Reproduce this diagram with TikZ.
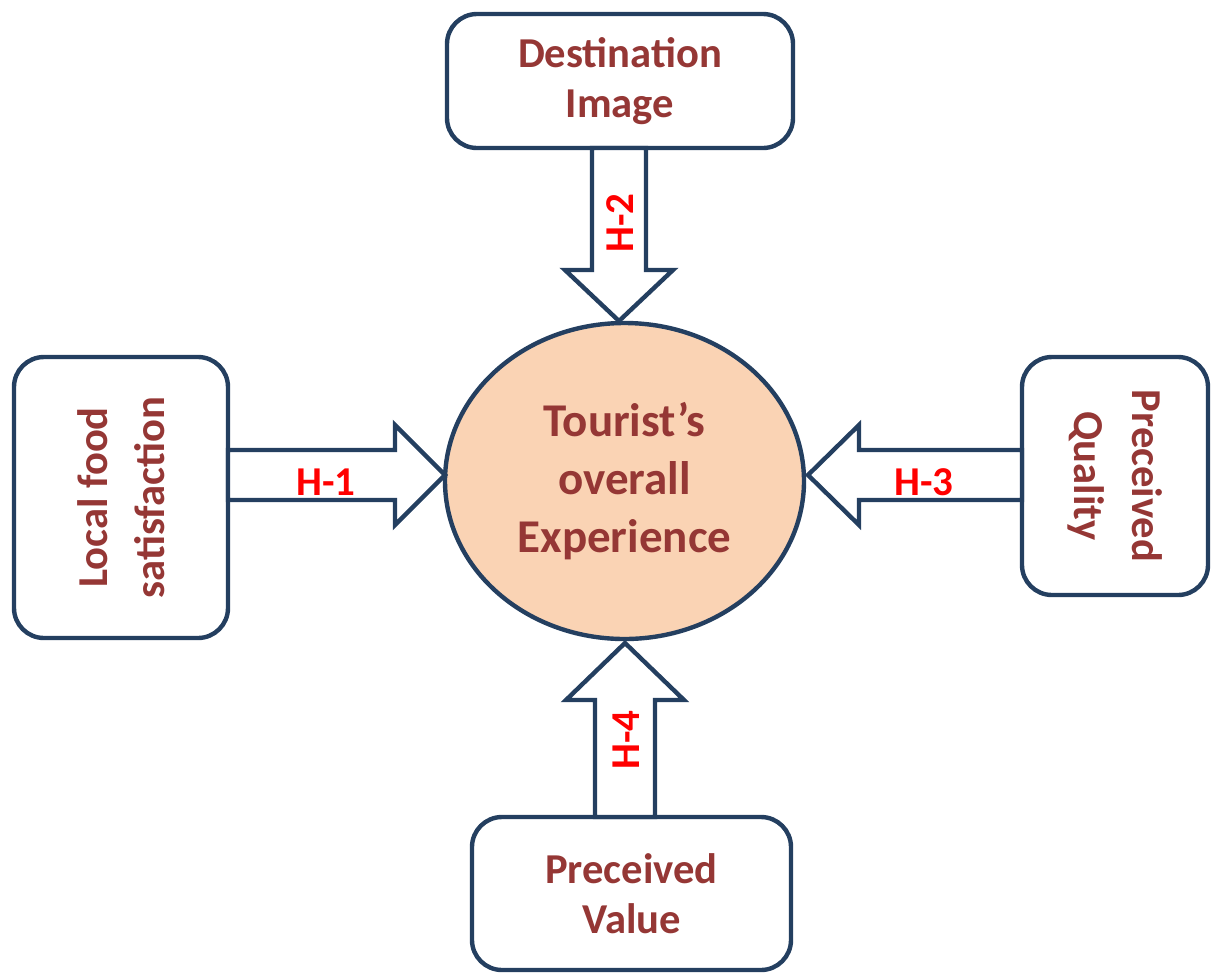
\documentclass[tikz,border=0pt]{standalone}
\usepackage{fontspec}
\setmainfont{Carlito}
\usetikzlibrary{shapes.geometric}
\definecolor{edgeblue}{HTML}{243F60}
\definecolor{txtred}{HTML}{953735}
\definecolor{peach}{HTML}{FAD3B4}
\begin{document}
\begin{tikzpicture}[x=0.5pt,y=-0.5pt,
 box/.style={draw=edgeblue, line width=2.2pt, rounded corners=15pt, fill=white, align=center,
   font=\fontsize{21.3}{25}\selectfont\bfseries, text=txtred, inner sep=0pt},
 barrow/.style={draw=edgeblue, line width=2.2pt, fill=white, line join=miter},
 hlabel/.style={text=red, font=\fontsize{20.5}{22}\selectfont\bfseries, inner sep=0pt}]
\useasboundingbox (0,0) rectangle (1211,976);

% boxes
\node[box, minimum width=173pt, minimum height=67pt] (di) at (620,81) {Destination\\Image};
\node[box, rotate=90, minimum width=140.5pt, minimum height=107pt,
  font=\fontsize{21.3}{28.5}\selectfont\bfseries] (lf) at (121,497.5) {Local food\\satisfaction};
\node[box, rotate=-90, minimum width=119pt, minimum height=93pt,
  font=\fontsize{21.3}{29}\selectfont\bfseries] (pq) at (1115,476) {Preceived\\Quality};
\node[box, minimum width=159.5pt, minimum height=76.5pt] (pv) at (631.5,893.5) {Preceived\\Value};

% centre
\node[ellipse, draw=edgeblue, line width=2.2pt, fill=peach, minimum width=179.5pt, minimum height=158pt,
  align=center, text=txtred, font=\fontsize{23.5}{29}\selectfont\bfseries, inner sep=0pt]
  (oe) at (624.5,481) {Tourist’s\\overall\\Experience};

% block arrows
\draw[barrow] (228,450) -- (395,450) -- (395,425) -- (445,475) -- (395,525) -- (395,500) -- (228,500) -- cycle;
\draw[barrow] (1022,450) -- (859,450) -- (859,425) -- (808,475) -- (859,525) -- (859,500) -- (1022,500) -- cycle;
\draw[barrow] (592,148) -- (592,270) -- (565,270) -- (619,321) -- (673,270) -- (646,270) -- (646,148) -- cycle;
\draw[barrow] (595,817) -- (595,700) -- (566,700) -- (625,643) -- (684,700) -- (655,700) -- (655,817) -- cycle;

% labels
\node[hlabel] (h1) at (326,482) {H-1};
\node[hlabel] (h3) at (924,482) {H-3};
\node[hlabel, rotate=90] (h2) at (620,223) {H-2};
\node[hlabel, rotate=90] (h4) at (626,740) {H-4};
\end{tikzpicture}
\end{document}
